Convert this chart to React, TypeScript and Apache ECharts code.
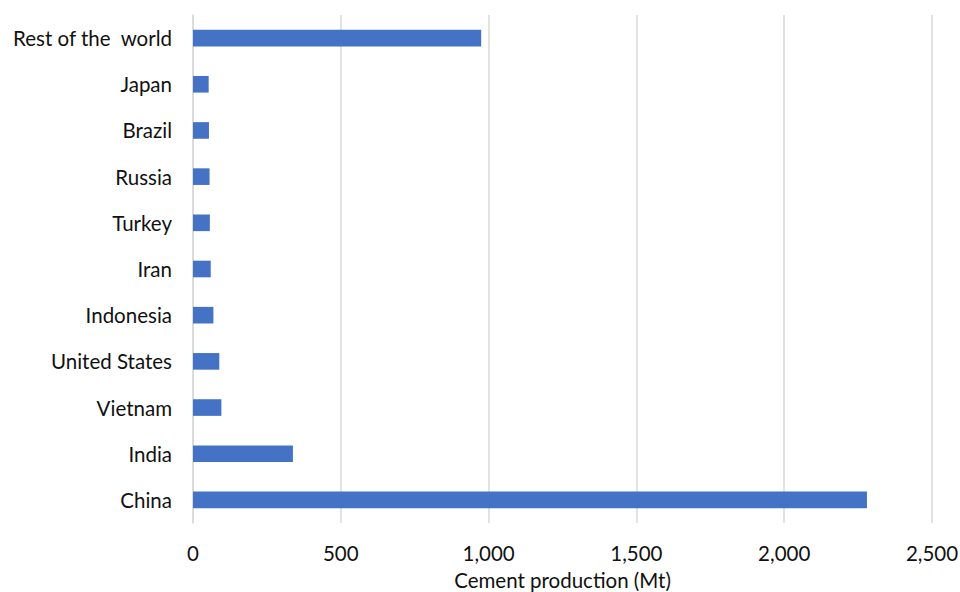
import React, { useEffect, useRef } from "react";
import * as echarts from "echarts";

const countries = ["China", "India", "Vietnam", "United States", "Indonesia", "Iran", "Turkey", "Russia", "Brazil", "Japan", "Rest of the  world"];
const production = [2280, 338, 96, 89, 69, 60, 57, 56, 54, 53, 975];
const xTicks = [0, 500, 1000, 1500, 2000, 2500];
const xAxisTitle = "Cement production (Mt)";

export default function App() {
  const ref = useRef<HTMLDivElement>(null);
  useEffect(() => {
    if (!ref.current) return;
    const chart = echarts.init(ref.current, null, { renderer: "svg" });
    const font = "Lato, 'Open Sans', sans-serif";
    chart.setOption({
      animation: false,
      grid: { left: 193, right: 28, top: 15, bottom: 69, containLabel: false, outerBoundsMode: "none" },
      xAxis: {
        type: "value",
        min: xTicks[0],
        max: xTicks[xTicks.length - 1],
        interval: 500,
        name: xAxisTitle,
        nameLocation: "middle",
        nameGap: 46,
        nameTextStyle: { fontSize: 20.5, color: "#111", fontFamily: font },
        axisLine: { show: false },
        axisTick: { show: false },
        axisLabel: {
          fontSize: 20.5,
          color: "#111",
          fontFamily: font,
          margin: 19,
          formatter: (v: number) => v.toLocaleString("en-US"),
        },
        splitLine: { show: true, lineStyle: { color: "#d9d9d9", width: 1.5 } },
      },
      yAxis: {
        type: "category",
        data: countries,
        axisLine: { show: true, lineStyle: { color: "#d9d9d9", width: 1.5 } },
        axisTick: { show: false },
        axisLabel: { fontSize: 20.5, color: "#111", fontFamily: font, margin: 21 },
      },
      series: [
        {
          type: "bar",
          data: production,
          barCategoryGap: "64%",
          itemStyle: { color: "#4472c4" },
        },
      ],
    });
    return () => chart.dispose();
  }, []);
  return <div ref={ref} style={{ width: 960, height: 592, position: "absolute", left: 0, top: 0 }} />;
}
